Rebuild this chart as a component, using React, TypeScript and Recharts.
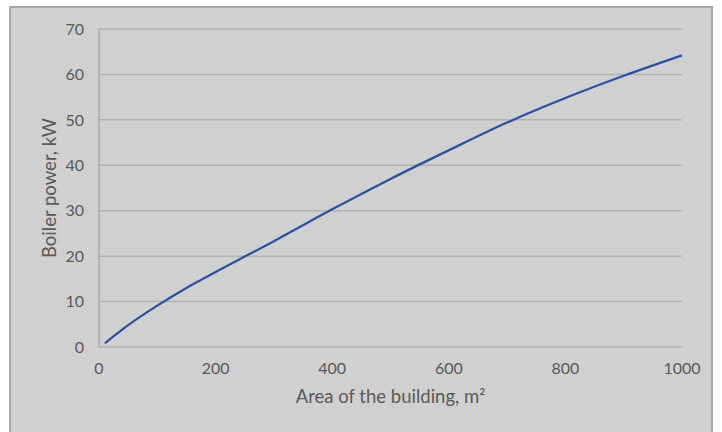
import React from 'react';
import { LineChart, Line, XAxis, YAxis, CartesianGrid } from 'recharts';

// Area of the building, m2
const areas = [10, 50, 100, 150, 200, 250, 300, 400, 500, 600, 700, 800, 900, 1000];
// Boiler power, kW
const power = [0.8, 4.8, 9.1, 13.0, 16.5, 19.9, 23.3, 30.3, 37.0, 43.3, 49.4, 54.8, 59.7, 64.2];

const xTicks = [0, 200, 400, 600, 800, 1000];
const yTicks = [0, 10, 20, 30, 40, 50, 60, 70];

const data = areas.map((a, i) => ({ area: a, power: power[i] }));

const FONT = "Lato, 'Open Sans', sans-serif";
const TEXT = '#595959';

const XLabel = ({ viewBox }: any) => (
  <text
    x={viewBox.x + viewBox.width / 2}
    y={viewBox.y + 49}
    textAnchor="middle"
    dominantBaseline="central"
    fill={TEXT}
    fontSize={18.5}
    fontFamily={FONT}
  >
    Area of the building, m²
  </text>
);

const YLabel = ({ viewBox }: any) => {
  const cx = viewBox.x + 9.5;
  const cy = viewBox.y + viewBox.height / 2;
  return (
    <text
      x={cx}
      y={cy}
      transform={`rotate(-90, ${cx}, ${cy})`}
      textAnchor="middle"
      dominantBaseline="central"
      fill={TEXT}
      fontSize={18.5}
      fontFamily={FONT}
    >
      Boiler power, kW
    </text>
  );
};

export default function App() {
  return (
    <div style={{ position: 'fixed', inset: 0, overflow: 'hidden', background: '#fff' }}>
      <div
        style={{
          position: 'absolute',
          left: 9,
          top: 6,
          width: 700,
          height: 440,
          background: '#d0d0d0',
          border: '2px solid #a9a9a9',
        }}
      >
        <LineChart
          width={700}
          height={430}
          data={data}
          margin={{ top: 21, right: 29, left: 28, bottom: 31 }}
        >
          <CartesianGrid vertical={false} stroke="#b2b2b2" strokeWidth={1.5} />
          <XAxis
            dataKey="area"
            type="number"
            domain={[0, 1000]}
            ticks={xTicks}
            axisLine={false}
            tickLine={false}
            tickSize={6}
            tickMargin={10}
            height={60}
            tick={{ fill: TEXT, fontSize: 16, fontFamily: FONT }}
            label={<XLabel />}
          />
          <YAxis
            type="number"
            domain={[0, 70]}
            ticks={yTicks}
            axisLine={{ stroke: '#a9a9a9', strokeWidth: 1.5 }}
            tickLine={false}
            tickSize={6}
            tickMargin={9}
            width={60}
            tick={{ fill: TEXT, fontSize: 16, fontFamily: FONT }}
            label={<YLabel />}
          />
          <Line
            type="monotone"
            dataKey="power"
            stroke="#2b52a0"
            strokeWidth={2.25}
            dot={false}
            isAnimationActive={false}
          />
        </LineChart>
      </div>
    </div>
  );
}
